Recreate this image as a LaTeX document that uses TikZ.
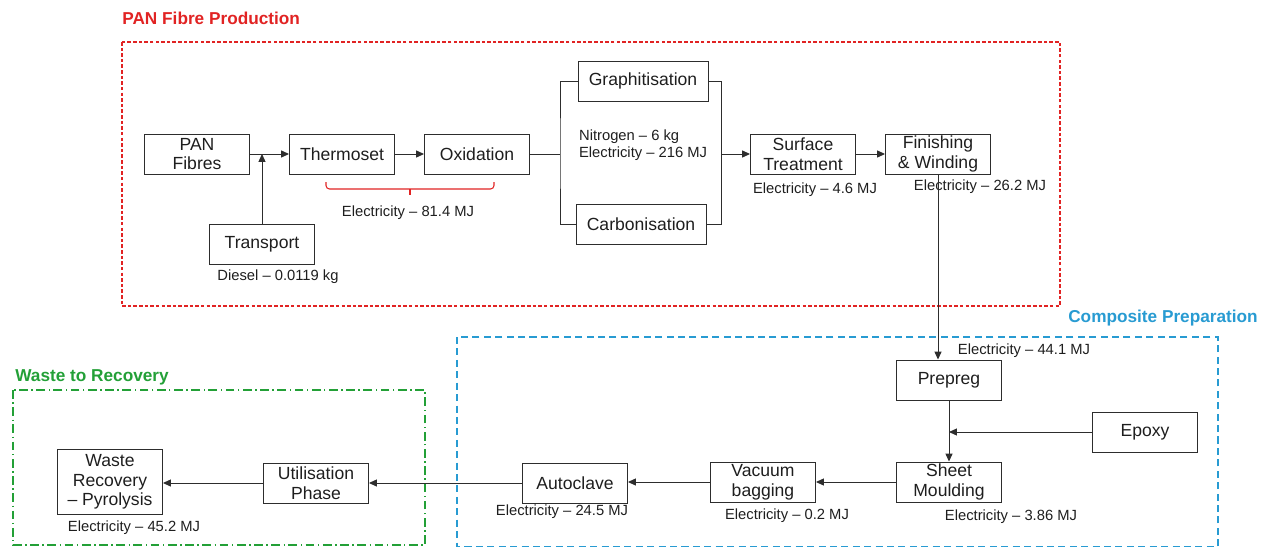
\documentclass[tikz,border=0pt]{standalone}
\usepackage{fontspec}
\setmainfont{Liberation Sans}
\usepackage{xcolor}
\usepackage{tikz}
\usetikzlibrary{arrows.meta,calc}
\definecolor{figline}{RGB}{45,45,45}
\definecolor{figtext}{RGB}{30,30,30}
\definecolor{panred}{RGB}{225,35,35}
\definecolor{compblue}{RGB}{40,155,210}
\definecolor{wastegreen}{RGB}{35,160,55}
\tikzset{
  box/.style  ={draw=figline, line width=0.55pt, text=figtext, minimum width=2.1cm, minimum height=0.8cm, inner sep=1pt, align=center, font=\fontsize{10}{11.2}\selectfont},
  boxw/.style ={box, minimum width=2.6cm},
  lab/.style  ={text=figtext, font=\fontsize{8.4}{10}\selectfont, inner sep=1pt},
  ttl/.style  ={font=\fontsize{9.8}{12}\selectfont\bfseries, inner sep=0pt},
  ln/.style   ={draw=figline, line width=0.55pt},
  ptr/.style  ={ln, -{Triangle[length=4.5pt,width=4pt]}},
  frm/.style  ={line width=0.75pt},
}

\begin{document}
\begin{tikzpicture}[x=0.02cm, y=-0.02cm]
  \useasboundingbox (0,0) rectangle (1267,548);
  % stage frames
  \draw[frm, panred, dash pattern=on 2pt off 1.2pt] (122,42) rectangle (1060,306);
  \draw[frm, compblue, dash pattern=on 4pt off 2.5pt] (457,337) rectangle (1218,546.5);
  \draw[frm, wastegreen, dash pattern=on 5pt off 2pt on 0.8pt off 2pt] (13,390) rectangle (425,545);
  \node[ttl, text=panred, anchor=west] (tpan) at (122,18) {PAN Fibre Production};
  \node[ttl, text=compblue] (tcomp) at (1163,318) {Composite Preparation};
  \node[ttl, text=wastegreen, anchor=west] (twaste) at (15,377) {Waste to Recovery};
  % PAN fibre production
  \node[box] (pan) at (197,154) {PAN\\Fibres};
  \node[box] (thm) at (342,154) {Thermoset};
  \node[box] (oxi) at (477,154) {Oxidation};
  \node[box] (trn) at (262,244) {Transport};
  \node[boxw] (gra) at (643,81) {Graphitisation};
  \node[boxw] (car) at (641,224) {Carbonisation};
  \node[box] (sur) at (803,154) {Surface\\Treatment};
  \node[box] (fin) at (938,154) {Finishing\\\& Winding};
  \coordinate (splitL) at (560,154);
  \coordinate (splitR) at (721,154);
  \draw[ptr] (pan) -- (thm);
  \draw[ptr] (trn.north) -- (trn.north |- pan.east);
  \draw[ptr] (thm) -- (oxi);
  \draw[ln] (oxi) -- (splitL);
  \draw[ln] (gra.west) -| (splitL) |- (car.west);
  \draw[ln] (gra.east) -| (splitR) |- (car.east);
  \draw[ptr] (splitR) -- (sur);
  \draw[ptr] (sur) -- (fin);
  \draw[panred, line width=0.6pt, rounded corners=2pt] (326,182) -- (326,189) -- (494,189) -- (494,182);
  \draw[panred, line width=0.6pt] (410,189) -- (410,195);
  \node[lab] (dsl) at (278,277) {Diesel -- 0.0119 kg};
  \node[lab] (e814) at (408,213) {Electricity -- 81.4 MJ};
  \node[lab, align=left, anchor=west] (e216) at (577,145) {Nitrogen -- 6 kg\\Electricity -- 216 MJ};
  \node[lab] (e46) at (815,190) {Electricity -- 4.6 MJ};
  \node[lab] (e262) at (980,187) {Electricity -- 26.2 MJ};
  % composite preparation
  \node[box] (pre) at (949,380) {Prepreg};
  \node[box] (epx) at (1145,432) {Epoxy};
  \node[box] (shm) at (949,482) {Sheet\\Moulding};
  \node[box] (vac) at (763,482) {Vacuum\\bagging};
  \node[box] (acl) at (575,483) {Autoclave};
  \draw[ptr] (fin.south) -- (fin.south |- pre.north);
  \draw[ptr] (pre.south) -- (pre.south |- shm.north);
  \draw[ptr] (epx.west) -- (epx.west -| pre.south);
  \draw[ptr] (shm.west) -- (shm.west -| vac.east);
  \draw[ptr] (vac.west) -- (vac.west -| acl.east);
  \node[lab] (e441) at (1024,351) {Electricity -- 44.1 MJ};
  \node[lab] (e386) at (1011,517) {Electricity -- 3.86 MJ};
  \node[lab] (e02) at (787,516) {Electricity -- 0.2 MJ};
  \node[lab] (e245) at (562,512) {Electricity -- 24.5 MJ};
  % waste to recovery
  \node[box] (uti) at (316,483) {Utilisation\\Phase};
  \node[box, minimum height=1.3cm] (wrc) at (110,482) {Waste\\Recovery\\-- Pyrolysis};
  \draw[ptr] (acl.west) -- (acl.west -| uti.east);
  \draw[ptr] (uti.west) -- (uti.west -| wrc.east);
  \node[lab] (e452) at (134,528) {Electricity -- 45.2 MJ};
\end{tikzpicture}
\end{document}
